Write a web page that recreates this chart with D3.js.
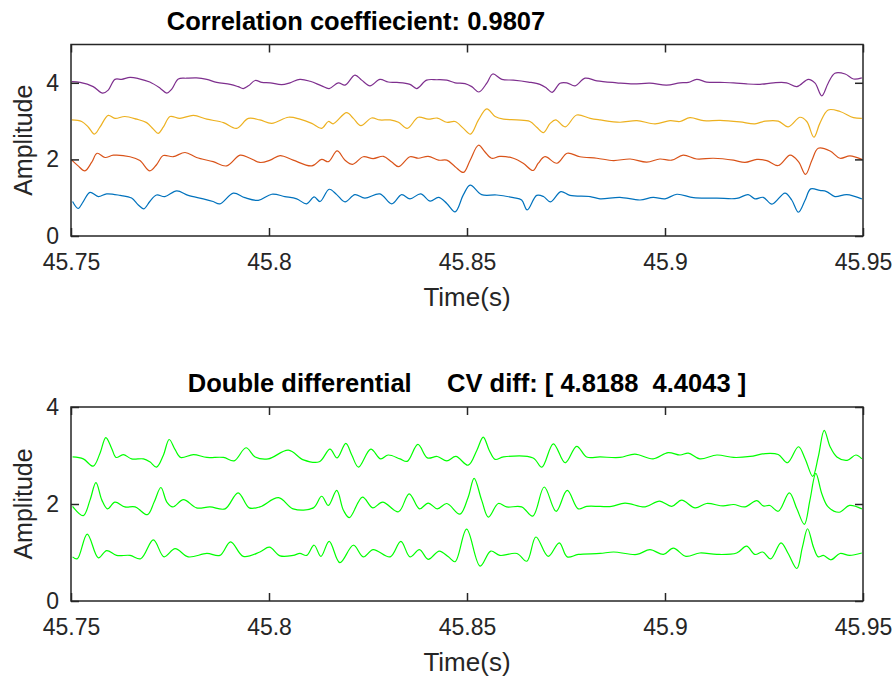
<!DOCTYPE html>
<html>
<head>
<meta charset="utf-8">
<script src="https://cdn.jsdelivr.net/npm/d3@7"></script>
<style>
  body { margin: 0; background: #fff; }
  svg { display: block; }
  text { font-family: "Liberation Sans", Arial, Helvetica, sans-serif; }
</style>
</head>
<body>
<div id="chart"></div>
<script>
// ticks and labels
var xTicks = [45.75, 45.8, 45.85, 45.9, 45.95]
var xTickLabels = ['45.75', '45.8', '45.85', '45.9', '45.95']
var yTicks = [0, 2, 4]
var yTickLabels = ['0', '2', '4']

var topTitle = 'Correlation coeffiecient: 0.9807'
var bottomTitle = 'Double differential     CV diff: [ 4.8188  4.4043 ]'

// top panel, four channels, [time (s), amplitude]
var chan1 = [[45.7504,0.90],[45.7518,0.72],[45.7531,0.90],[45.7548,1.14],[45.7569,1.03],[45.7590,1.10],[45.7624,1.06],[45.7653,0.99],[45.7670,0.81],[45.7684,0.71],[45.7699,0.90],[45.7716,1.07],[45.7737,1.03],[45.7767,1.18],[45.7796,1.06],[45.7834,0.97],[45.7859,0.90],[45.7876,0.84],[45.7910,1.12],[45.7939,1.00],[45.7973,0.93],[45.8007,1.09],[45.8040,1.03],[45.8070,0.97],[45.8095,0.84],[45.8114,1.02],[45.8129,0.90],[45.8152,1.22],
  [45.8171,1.08],[45.8192,0.89],[45.8217,1.08],[45.8242,0.99],[45.8280,1.10],[45.8310,0.84],[45.8335,1.08],[45.8356,0.97],[45.8383,1.10],[45.8407,0.91],[45.8428,1.01],[45.8449,0.85],[45.8470,0.63],[45.8491,1.08],[45.8508,1.33],[45.8537,1.08],[45.8575,1.07],[45.8617,1.00],[45.8638,0.94],[45.8652,0.68],[45.8676,1.06],[45.8693,1.03],[45.8711,0.89],[45.8737,1.16],[45.8760,1.06],[45.8811,1.03],
  [45.8836,0.97],[45.8886,1.01],[45.8937,0.94],[45.8970,1.01],[45.9000,0.97],[45.9030,1.09],[45.9072,1.00],[45.9131,0.99],[45.9181,0.98],[45.9210,1.08],[45.9227,0.97],[45.9248,1.01],[45.9270,0.83],[45.9303,1.12],[45.9320,0.94],[45.9337,0.62],[45.9354,0.94],[45.9368,1.23],[45.9391,1.19],[45.9408,1.16],[45.9429,1.03],[45.9459,1.08],[45.9497,0.97]]

var chan2 = [[45.7502,1.98],[45.7518,1.83],[45.7535,1.70],[45.7552,1.92],[45.7566,2.16],[45.7586,2.05],[45.7607,2.11],[45.7649,2.07],[45.7674,1.97],[45.7699,1.70],[45.7716,1.86],[45.7733,2.10],[45.7758,2.07],[45.7788,2.18],[45.7817,2.05],[45.7859,1.94],[45.7893,1.83],[45.7927,2.11],[45.7952,2.03],[45.7977,1.92],[45.8003,1.98],[45.8028,2.10],[45.8061,1.98],[45.8108,1.83],[45.8133,2.00],[45.8150,1.94],
  [45.8172,2.22],[45.8192,1.98],[45.8211,1.87],[45.8238,2.07],[45.8263,2.02],[45.8289,2.08],[45.8310,1.93],[45.8327,1.81],[45.8356,2.07],[45.8377,2.03],[45.8402,2.08],[45.8428,1.98],[45.8449,1.98],[45.8470,1.81],[45.8491,1.66],[45.8508,1.98],[45.8529,2.37],[45.8545,2.20],[45.8562,2.03],[45.8583,2.08],[45.8617,2.03],[45.8642,1.90],[45.8667,1.71],[45.8680,1.90],[45.8697,2.07],[45.8727,1.90],[45.8753,2.16],[45.8785,2.07],[45.8828,2.03],
  [45.8870,1.97],[45.8912,2.01],[45.8954,1.93],[45.8987,2.01],[45.9017,1.98],[45.9046,2.11],[45.9080,2.01],[45.9122,2.03],[45.9173,1.98],[45.9202,1.92],[45.9232,2.00],[45.9257,1.97],[45.9286,1.84],[45.9316,2.11],[45.9337,1.94],[45.9355,1.61],[45.9371,1.98],[45.9387,2.29],[45.9417,2.22],[45.9442,2.03],[45.9467,2.09],[45.9497,2.00]]

var chan3 = [[45.7502,3.03],[45.7527,2.99],[45.7544,2.84],[45.7559,2.66],[45.7573,2.84],[45.7594,3.15],[45.7611,3.07],[45.7636,3.12],[45.7666,3.05],[45.7691,2.96],[45.7708,2.79],[45.7720,2.68],[45.7733,2.84],[45.7750,3.12],[45.7775,3.07],[45.7809,3.15],[45.7843,3.05],[45.7885,2.96],[45.7918,2.81],[45.7948,3.07],[45.7977,3.03],[45.8007,2.94],[45.8049,3.10],[45.8078,3.05],[45.8108,2.94],[45.8133,2.81],[45.8150,2.99],[45.8162,2.93],
  [45.8196,3.22],[45.8213,3.07],[45.8232,2.88],[45.8259,3.08],[45.8280,3.03],[45.8306,3.03],[45.8327,2.97],[45.8349,2.81],[45.8377,3.10],[45.8402,3.05],[45.8425,3.08],[45.8449,2.97],[45.8470,2.99],[45.8491,2.81],[45.8509,2.66],[45.8529,3.03],[45.8550,3.32],[45.8571,3.12],[45.8592,3.05],[45.8626,3.03],[45.8659,2.99],[45.8676,2.84],[45.8693,2.70],[45.8710,2.94],[45.8724,3.03],[45.8748,2.85],[45.8777,3.16],[45.8811,3.07],
  [45.8836,3.03],[45.8886,2.97],[45.8929,3.01],[45.8975,2.93],[45.9013,3.01],[45.9038,2.99],[45.9063,3.09],[45.9097,3.01],[45.9139,3.02],[45.9189,2.98],[45.9227,2.93],[45.9253,3.00],[45.9286,3.00],[45.9311,2.85],[45.9341,3.10],[45.9358,2.99],[45.9376,2.58],[45.9391,2.94],[45.9412,3.29],[45.9442,3.25],[45.9476,3.09],[45.9497,3.07]]

var chan4 = [[45.7502,4.03],[45.7523,4.01],[45.7556,3.90],[45.7580,3.73],[45.7594,3.81],[45.7611,4.09],[45.7628,4.09],[45.7649,4.14],[45.7670,4.11],[45.7699,4.02],[45.7725,3.86],[45.7742,3.73],[45.7754,3.83],[45.7771,4.10],[45.7792,4.12],[45.7817,4.13],[45.7843,4.09],[45.7868,4.01],[45.7902,3.96],[45.7922,3.90],[45.7935,3.85],[45.7948,3.92],[45.7965,4.06],[45.7982,4.01],[45.8003,4.00],[45.8032,3.95],[45.8053,4.00],[45.8078,4.09],[45.8104,4.04],[45.8133,3.92],[45.8152,3.85],
  [45.8175,4.00],[45.8192,3.94],[45.8217,4.20],[45.8234,4.07],[45.8255,3.92],[45.8280,4.09],[45.8301,4.02],[45.8323,4.01],[45.8356,3.96],[45.8373,3.85],[45.8398,4.07],[45.8424,4.08],[45.8449,4.07],[45.8470,4.00],[45.8495,3.98],[45.8512,3.90],[45.8530,3.76],[45.8550,3.99],[45.8565,4.23],[45.8588,4.09],[45.8617,4.07],[45.8655,4.02],[45.8684,3.96],[45.8701,3.86],[45.8715,3.75],[45.8735,3.99],[45.8752,4.00],[45.8773,3.92],[45.8798,4.12],[45.8828,4.05],
  [45.8878,4.00],[45.8920,3.97],[45.8962,3.99],[45.9004,3.94],[45.9038,4.00],[45.9059,4.01],[45.9080,4.09],[45.9105,4.02],[45.9139,4.01],[45.9173,4.00],[45.9206,3.97],[45.9240,3.96],[45.9274,4.00],[45.9307,4.00],[45.9333,3.90],[45.9362,4.09],[45.9379,3.99],[45.9396,3.66],[45.9412,3.99],[45.9429,4.25],[45.9455,4.23],[45.9476,4.10],[45.9497,4.13]]

// bottom panel, double differential, [time (s), amplitude]
var diff1 = [[45.7504,0.91],[45.7516,0.87],[45.7541,1.38],[45.7569,0.89],[45.7590,1.04],[45.7615,0.94],[45.7649,0.94],[45.7676,0.87],[45.7708,1.26],[45.7735,0.91],[45.7763,1.08],[45.7796,0.91],[45.7843,0.98],[45.7876,0.94],[45.7903,1.22],[45.7935,0.92],[45.7977,1.01],[45.8001,1.11],[45.8028,0.93],[45.8061,0.94],[45.8078,0.98],[45.8095,0.94],[45.8114,1.15],[45.8131,0.92],[45.8152,1.23],
  [45.8179,0.79],[45.8213,1.15],[45.8238,0.91],[45.8263,1.06],[45.8306,0.91],[45.8333,1.23],[45.8356,0.91],[45.8380,1.06],[45.8402,0.86],[45.8430,1.03],[45.8453,0.91],[45.8470,0.81],[45.8499,1.48],[45.8533,0.72],[45.8560,1.03],[45.8583,0.94],[45.8626,0.98],[45.8651,0.82],[45.8674,1.32],[45.8705,0.92],[45.8733,1.20],[45.8753,0.91],[45.8781,0.96],
  [45.8836,0.98],[45.8870,1.01],[45.8929,0.96],[45.8962,1.06],[45.8996,0.96],[45.9021,1.09],[45.9053,0.92],[45.9088,0.99],[45.9131,0.96],[45.9181,0.99],[45.9206,1.13],[45.9227,0.96],[45.9247,1.01],[45.9267,0.87],[45.9293,1.20],[45.9311,0.98],[45.9333,0.67],[45.9347,1.11],[45.9360,1.49],[45.9375,1.11],[45.9387,0.91],[45.9400,0.94],[45.9419,0.85],[45.9442,0.98],[45.9466,0.94],[45.9497,0.99]]

var diff2 = [[45.7504,1.95],[45.7531,1.76],[45.7548,2.08],[45.7563,2.44],[45.7578,2.08],[45.7592,1.90],[45.7611,2.04],[45.7636,1.94],[45.7662,1.94],[45.7693,1.78],[45.7710,2.04],[45.7727,2.34],[45.7742,2.04],[45.7757,1.94],[45.7784,2.09],[45.7817,1.92],[45.7851,1.94],[45.7889,1.90],[45.7922,2.23],[45.7950,1.92],[45.7977,1.94],[45.8024,2.13],[45.8061,1.90],[45.8112,1.92],[45.8133,2.16],[45.8150,1.97],
  [45.8171,2.28],[45.8188,1.87],[45.8203,1.72],[45.8236,2.14],[45.8262,1.92],[45.8287,2.04],[45.8327,1.84],[45.8354,2.21],[45.8380,1.90],[45.8402,2.02],[45.8425,1.90],[45.8449,2.01],[45.8482,1.79],[45.8503,2.14],[45.8518,2.53],[45.8537,2.08],[45.8554,1.73],[45.8579,2.01],[45.8600,1.94],[45.8638,1.94],[45.8666,1.75],[45.8695,2.35],[45.8725,1.85],[45.8753,2.28],[45.8781,1.90],[45.8802,1.95],
  [45.8836,1.95],[45.8865,1.95],[45.8899,2.02],[45.8950,1.94],[45.8986,2.06],[45.9017,1.95],[45.9042,2.08],[45.9076,1.92],[45.9105,2.01],[45.9147,1.96],[45.9173,1.99],[45.9202,1.94],[45.9232,2.07],[45.9248,1.96],[45.9265,1.97],[45.9286,1.85],[45.9314,2.23],[45.9333,1.90],[45.9352,1.58],[45.9366,2.08],[45.9381,2.63],[45.9396,2.21],[45.9412,1.94],[45.9440,1.83],[45.9466,1.97],[45.9497,1.90]]

var diff3 = [[45.7504,2.97],[45.7531,2.93],[45.7556,2.78],[45.7573,3.04],[45.7588,3.37],[45.7603,3.14],[45.7614,2.96],[45.7632,3.02],[45.7653,2.93],[45.7683,2.93],[45.7699,2.87],[45.7716,2.76],[45.7733,3.00],[45.7748,3.33],[45.7763,3.12],[45.7777,2.96],[45.7809,3.02],[45.7843,2.96],[45.7885,2.96],[45.7912,2.89],[45.7942,3.16],[45.7965,2.97],[45.7998,2.93],[45.8049,3.11],[45.8087,2.91],[45.8127,2.87],[45.8154,3.13],
  [45.8172,2.95],[45.8194,3.25],[45.8209,3.01],[45.8226,2.76],[45.8257,3.13],[45.8282,2.93],[45.8301,3.01],[45.8331,2.93],[45.8349,2.88],[45.8376,3.23],[45.8400,2.95],[45.8425,2.98],[45.8449,2.89],[45.8472,2.98],[45.8503,2.80],[45.8525,3.11],[45.8541,3.38],[45.8556,3.11],[45.8571,2.92],[45.8592,2.97],[45.8667,2.95],[45.8689,2.76],[45.8718,3.24],[45.8748,2.85],[45.8777,3.19],[45.8802,2.97],
  [45.8836,2.97],[45.8886,2.96],[45.8924,3.03],[45.8970,2.93],[45.9008,3.06],[45.9038,3.01],[45.9059,3.05],[45.9088,2.93],[45.9131,3.01],[45.9173,2.96],[45.9215,2.98],[45.9253,3.04],[45.9286,3.02],[45.9309,2.85],[45.9337,3.18],[45.9354,2.93],[45.9373,2.57],[45.9387,2.97],[45.9402,3.52],[45.9417,3.18],[45.9434,2.97],[45.9460,2.90],[45.9482,3.01],[45.9497,2.93]]

// matlab default line colours
var chanColors = ['#0072BD', '#D95319', '#EDB120', '#7E2F8E']
var diffColor = '#00FF00'

var width = 896
var height = 676
var axColor = '#262626'

var svg = d3.select('#chart').append('svg')
  .attr('width', width)
  .attr('height', height)

var x = d3.scaleLinear().domain([45.75, 45.95]).range([71, 863])

function drawPanel (opts) {
  var y = d3.scaleLinear().domain([0, opts.yMax]).range([opts.bottom, opts.top])
  var g = svg.append('g')
  var clipId = 'clip' + opts.id

  g.append('clipPath').attr('id', clipId)
    .append('rect')
    .attr('x', x.range()[0]).attr('y', opts.top)
    .attr('width', x.range()[1] - x.range()[0])
    .attr('height', opts.bottom - opts.top)

  var line = d3.line()
    .x(function (d) { return x(d[0]) })
    .y(function (d) { return y(d[1]) })
    .curve(d3.curveCatmullRom.alpha(0.5))

  g.append('g').attr('clip-path', 'url(#' + clipId + ')')
    .selectAll('path')
    .data(opts.series)
    .enter().append('path')
    .attr('d', function (d) { return line(d) })
    .attr('fill', 'none')
    .attr('stroke', function (d, i) { return opts.colors[i] })
    .attr('stroke-width', 1.2)

  // ticks point inwards on all four sides, like matlab box on
  var xb = d3.axisBottom(x).tickValues(xTicks).tickSize(-8).tickSizeOuter(0).tickPadding(18)
    .tickFormat(function (d, i) { return xTickLabels[i] })
  var xt = d3.axisTop(x).tickValues(xTicks).tickSize(-8).tickSizeOuter(0).tickFormat('')
  var yl = d3.axisLeft(y).tickValues(yTicks).tickSize(-8).tickSizeOuter(0).tickPadding(12)
    .tickFormat(function (d, i) { return yTickLabels[i] })
  var yr = d3.axisRight(y).tickValues(yTicks).tickSize(-8).tickSizeOuter(0).tickFormat('')

  g.append('g').attr('transform', 'translate(0,' + opts.bottom + ')').call(xb)
  g.append('g').attr('transform', 'translate(0,' + opts.top + ')').call(xt)
  g.append('g').attr('transform', 'translate(' + x.range()[0] + ',0)').call(yl)
  g.append('g').attr('transform', 'translate(' + x.range()[1] + ',0)').call(yr)

  g.selectAll('.domain').remove()
  g.selectAll('.tick line').attr('stroke', axColor).attr('stroke-width', 1.5)
  g.selectAll('.tick text')
    .attr('fill', axColor)
    .style('font-size', '23px')

  g.append('rect')
    .attr('x', x.range()[0]).attr('y', opts.top)
    .attr('width', x.range()[1] - x.range()[0])
    .attr('height', opts.bottom - opts.top)
    .attr('fill', 'none')
    .attr('stroke', axColor)
    .attr('stroke-width', 1.5)

  g.append('text')
    .attr('x', 467).attr('y', opts.bottom + 70)
    .attr('text-anchor', 'middle')
    .attr('fill', axColor)
    .style('font-size', '26px')
    .text('Time(s)')

  g.append('text')
    .attr('transform', 'translate(32,' + (opts.top + opts.bottom) / 2 + ') rotate(-90)')
    .attr('text-anchor', 'middle')
    .attr('fill', axColor)
    .style('font-size', '25px')
    .text('Amplitude')

  g.append('text')
    .attr('x', opts.titleX).attr('y', opts.top - 15)
    .attr('text-anchor', 'middle')
    .attr('fill', '#000')
    .style('font-size', '25.5px')
    .style('font-weight', 'bold')
    .style('white-space', 'pre')
    .attr('xml:space', 'preserve')
    .text(opts.title)
}

drawPanel({
  id: 'top', top: 44.5, bottom: 236, yMax: 5,
  series: [chan1, chan2, chan3, chan4], colors: chanColors,
  title: topTitle, titleX: 356
})

drawPanel({
  id: 'bot', top: 407, bottom: 601, yMax: 4,
  series: [diff1, diff2, diff3], colors: [diffColor, diffColor, diffColor],
  title: bottomTitle, titleX: 467
})
</script>
</body>
</html>
